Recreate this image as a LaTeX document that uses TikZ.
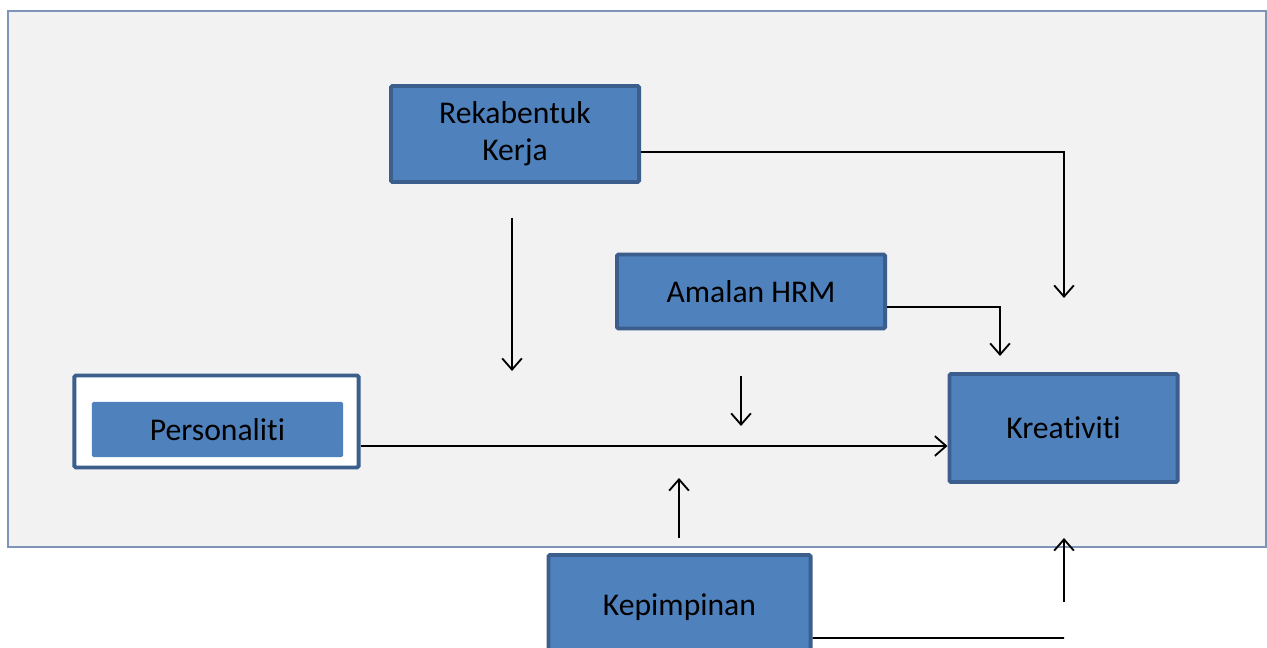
\documentclass[tikz,border=0pt]{standalone}
\usepackage{fontspec}
\setmainfont{Carlito}[Ligatures=NoCommon]
\usetikzlibrary{arrows.meta}
\definecolor{boxblue}{HTML}{4F81BD}
\definecolor{boxline}{HTML}{3B5E8C}
\definecolor{panel}{HTML}{F2F2F2}
\definecolor{panelline}{HTML}{7F95B8}
\begin{document}
\begin{tikzpicture}[x=0.025cm,y=-0.025cm]
\tikzset{box/.style={draw=boxline,fill=boxblue,line width=2.8pt,rounded corners=1pt,
  align=center,inner sep=0pt,font=\fontsize{22.5}{26.3}\selectfont}}
\tikzset{link/.style={line width=1.3pt,-{Straight Barb[length=8pt,width=14pt]}}}
\useasboundingbox (0,0) rectangle (1267,648);
\draw[draw=panelline,fill=panel,line width=0.8pt] (8,11) rectangle (1266,547);
\node[box,minimum width=6.2cm,minimum height=2.4cm] (reka) at (515,134) {Rekabentuk\\Kerja};
\node[box,minimum width=6.7cm,minimum height=1.85cm] (hrm) at (751,291.5) {Amalan HRM};
\node[box,fill=white,minimum width=7.1cm,minimum height=2.3cm] (pers) at (216.5,421.5) {};
\node[box,draw=none,minimum width=6.275cm,minimum height=1.375cm] (persin) at (217.5,429.5) {Personaliti};
\node[box,minimum width=5.7cm,minimum height=2.7cm] (krea) at (1063.5,428) {Kreativiti};
\node[box,minimum width=6.55cm,minimum height=2.6cm] (kep) at (679.5,607) {Kepimpinan};
\coordinate (r1) at (1064,298);
\coordinate (h1) at (1000,356);
\coordinate (a1) at (512,218);
\coordinate (a2) at (512,371);
\coordinate (b1) at (741,376);
\coordinate (b2) at (741,426);
\coordinate (c1) at (679,538);
\coordinate (c2) at (679,478);
\coordinate (d1) at (1064,602);
\coordinate (d2) at (1064,538);
\coordinate (k1) at (1064,638);
\draw[link] ([yshift=-0.45cm]reka.east) -| (r1);
\draw[link] ([yshift=-0.3875cm]hrm.east) -| (h1);
\draw[link] ([yshift=-0.6125cm]pers.east) -- ([yshift=-0.6125cm]pers.east -| krea.west);
\draw[link] (a1) -- (a2);
\draw[link] (b1) -- (b2);
\draw[link] (c1) -- (c2);
\draw[link] (d1) -- (d2);
\draw[line width=1.3pt] ([yshift=-0.775cm]kep.east) -- (k1);
\end{tikzpicture}
\end{document}
